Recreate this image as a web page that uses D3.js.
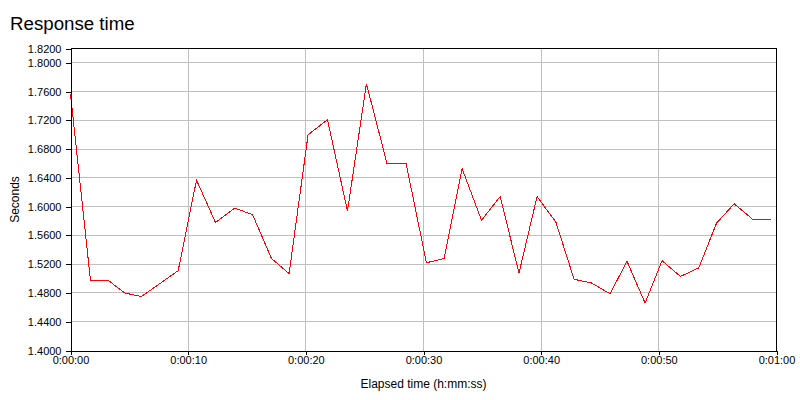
<!DOCTYPE html>
<html>
<head>
<meta charset="utf-8">
<script src="https://cdn.jsdelivr.net/npm/d3@7"></script>
<style>
  html, body { margin: 0; padding: 0; background: #fff; }
  svg { display: block; font-family: "Liberation Sans", Arial, sans-serif; }
</style>
</head>
<body>
<svg id="chart" width="800" height="400"></svg>
<script>
// Elapsed time in seconds
const times = [0, 1.70, 3.25, 4.61, 6.03, 9.15, 10.71, 12.32, 13.96, 15.47, 17.08, 18.58,
  20.19, 21.84, 23.54, 25.15, 26.90, 28.52, 30.25, 31.75, 33.28, 34.93, 36.51, 38.12,
  39.65, 41.24, 42.80, 44.27, 45.85, 47.30, 48.83, 50.27, 51.84, 53.40, 54.90, 56.40,
  58.01, 59.57];
// Response time in seconds
const seconds = [1.757, 1.497, 1.497, 1.480, 1.475, 1.511, 1.637, 1.578, 1.598, 1.589, 1.528, 1.507,
  1.700, 1.721, 1.594, 1.771, 1.660, 1.660, 1.522, 1.528, 1.653, 1.581, 1.614, 1.508,
  1.614, 1.579, 1.499, 1.494, 1.479, 1.524, 1.466, 1.525, 1.503, 1.515, 1.577, 1.604,
  1.582, 1.582];
const yTicks = [1.40, 1.44, 1.48, 1.52, 1.56, 1.60, 1.64, 1.68, 1.72, 1.76, 1.80, 1.82];
const xTicks = [0, 10, 20, 30, 40, 50, 60];
const xTickLabels = ["0:00:00", "0:00:10", "0:00:20", "0:00:30", "0:00:40", "0:00:50", "0:01:00"];
const title = "Response time";
const xTitle = "Elapsed time (h:mm:ss)";
const yTitle = "Seconds";

const svg = d3.select("#chart");
const L = 70.5, R = 776.5, T = 48.5, B = 350.5;

const x = d3.scaleLinear().domain([0, 60]).range([L, R]);
const y = d3.scaleLinear().domain([1.40, 1.82]).range([B, T]);

// Title
svg.append("text").attr("x", 10).attr("y", 30)
  .attr("font-size", 18.7).attr("fill", "#000").text(title);

// Grid
const grid = svg.append("g").attr("shape-rendering", "crispEdges");
grid.selectAll("line.hy").data(yTicks.filter(d => d > 1.40 && d < 1.82))
  .join("line")
  .attr("x1", L).attr("x2", R)
  .attr("y1", d => Math.round(y(d) - 0.5) + 0.5).attr("y2", d => Math.round(y(d) - 0.5) + 0.5)
  .attr("stroke", "#c0c0c0");
grid.selectAll("line.vx").data(xTicks.filter(d => d > 0 && d < 60))
  .join("line")
  .attr("y1", T).attr("y2", B)
  .attr("x1", d => Math.round(x(d) - 0.5) + 0.5).attr("x2", d => Math.round(x(d) - 0.5) + 0.5)
  .attr("stroke", "#c0c0c0");

// Border (top and right)
svg.append("path").attr("d", `M${L},${T}H${R}V${B}`)
  .attr("fill", "none").attr("stroke", "#000").attr("shape-rendering", "crispEdges");

// Line
const line = d3.line().x((d, i) => x(times[i])).y(d => y(d));
svg.append("path").datum(seconds)
  .attr("d", line)
  .attr("fill", "none").attr("stroke", "#ff0000").attr("stroke-width", 1)
  .attr("shape-rendering", "crispEdges");

// Y axis
const yAxis = d3.axisLeft(y).tickValues(yTicks).tickFormat(d3.format(".4f")).tickSize(5).tickPadding(4);
const gy = svg.append("g").attr("transform", `translate(${L},0)`).call(yAxis);
gy.select(".domain").attr("stroke", "#000").attr("shape-rendering", "crispEdges");
gy.selectAll(".tick line").attr("stroke", "#000").attr("shape-rendering", "crispEdges");
gy.selectAll("text").attr("font-size", 11).attr("fill", "#000")
  .attr("font-family", "Liberation Sans, Arial, sans-serif");

// X axis
const xAxis = d3.axisBottom(x).tickValues(xTicks).tickFormat((d, i) => xTickLabels[i]).tickSize(4).tickPadding(2);
const gx = svg.append("g").attr("transform", `translate(0,${B})`).call(xAxis);
gx.select(".domain").attr("stroke", "#000").attr("shape-rendering", "crispEdges");
gx.selectAll(".tick line").attr("stroke", "#000").attr("shape-rendering", "crispEdges");
gx.selectAll("text").attr("font-size", 11).attr("fill", "#000")
  .attr("font-family", "Liberation Sans, Arial, sans-serif");

// Axis titles
svg.append("text").attr("x", (L + R) / 2).attr("y", 388)
  .attr("text-anchor", "middle").attr("font-size", 12).attr("fill", "#000").text(xTitle);
svg.append("text").attr("transform", `translate(19,${(T + B) / 2}) rotate(-90)`)
  .attr("text-anchor", "middle").attr("font-size", 12).attr("fill", "#000").text(yTitle);
</script>
</body>
</html>
